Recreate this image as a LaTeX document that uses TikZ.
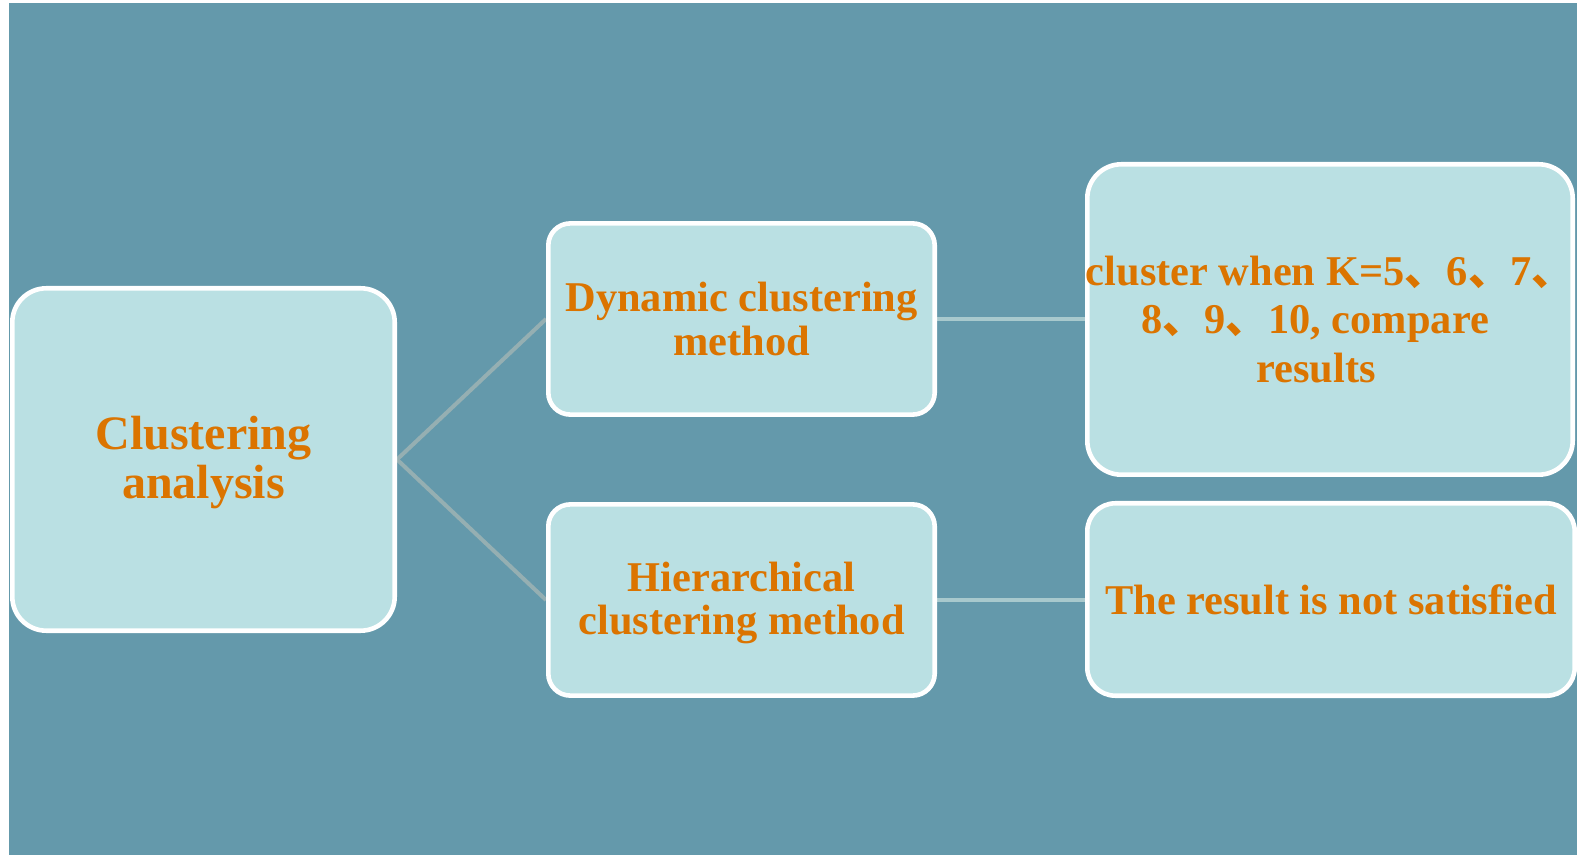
\documentclass[tikz,border=0pt]{standalone}
\usepackage{fontspec}
\setmainfont{Liberation Serif}
\newfontfamily\cjk{Noto Sans CJK SC}
\newcommand{\dun}{{\cjk 、}}
\pgfdeclarelayer{bglayer}
\pgfdeclarelayer{edgelayer}
\pgfsetlayers{bglayer,edgelayer,main}
\definecolor{bgteal}{HTML}{6499AB}
\definecolor{boxfill}{HTML}{BAE0E3}
\definecolor{txtorange}{HTML}{DB7400}
\definecolor{diagline}{HTML}{95AFB2}
\definecolor{horline}{HTML}{A8C9CD}
\tikzset{
  boxstyle/.style={draw=white, line width=2.3pt, fill=boxfill, inner sep=0pt,
    text=txtorange, font=\bfseries\fontsize{21.2}{21.7}\selectfont, align=center},
  bigbox/.style={boxstyle, rounded corners=17pt},
  smallbox/.style={boxstyle, rounded corners=11pt},
  diagconn/.style={draw=diagline, line width=2pt},
  horconn/.style={draw=horline, line width=2pt},
}
\begin{document}
\begin{tikzpicture}[x=0.5pt,y=-0.5pt]
\useasboundingbox (0,0) rectangle (1580,855);
\begin{pgfonlayer}{bglayer}
\fill[white] (0,0) rectangle (1580,855);
\fill[bgteal] (9,3) rectangle (1577,855);
\end{pgfonlayer}

\node[bigbox, minimum width=191.2pt, minimum height=171.2pt,
  font=\bfseries\fontsize{24}{24.5}\selectfont] (ca) at (203.5,459.5)
  {\rule{0pt}{19.5pt}Clustering\\analysis};
\node[smallbox, minimum width=193.2pt, minimum height=95.6pt] (dyn) at (741.5,319)
  {Dynamic clustering\\method};
\node[smallbox, minimum width=193.2pt, minimum height=95.6pt] (hier) at (741.5,600)
  {\rule{0pt}{17.5pt}Hierarchical\\clustering method};
\node[bigbox, minimum width=242.7pt, minimum height=155.2pt] (kbox) at (1330,319.5) {};
\node[text=txtorange, font=\bfseries\fontsize{21.2}{24.25}\selectfont, align=center, inner sep=0pt]
  (ktxt) at (kbox.center)
  {cluster when K=5\dun 6\dun 7\dun\\
   8\dun 9\dun 10, compare\rule{15pt}{0pt}\\
   results\rule{14pt}{0pt}};
\node[smallbox, rounded corners=14pt, minimum width=243.7pt, minimum height=96.2pt] (res) at (1331,599.5)
  {The result is not satisfied};

\begin{pgfonlayer}{edgelayer}
\draw[diagconn] (ca.east) -- (dyn.west);
\draw[diagconn] (ca.east) -- (hier.west);
\draw[horconn] (dyn.east) -- (dyn.east -| kbox.west);
\draw[horconn] (hier.east) -- (hier.east -| res.west);
\end{pgfonlayer}
\end{tikzpicture}
\end{document}
